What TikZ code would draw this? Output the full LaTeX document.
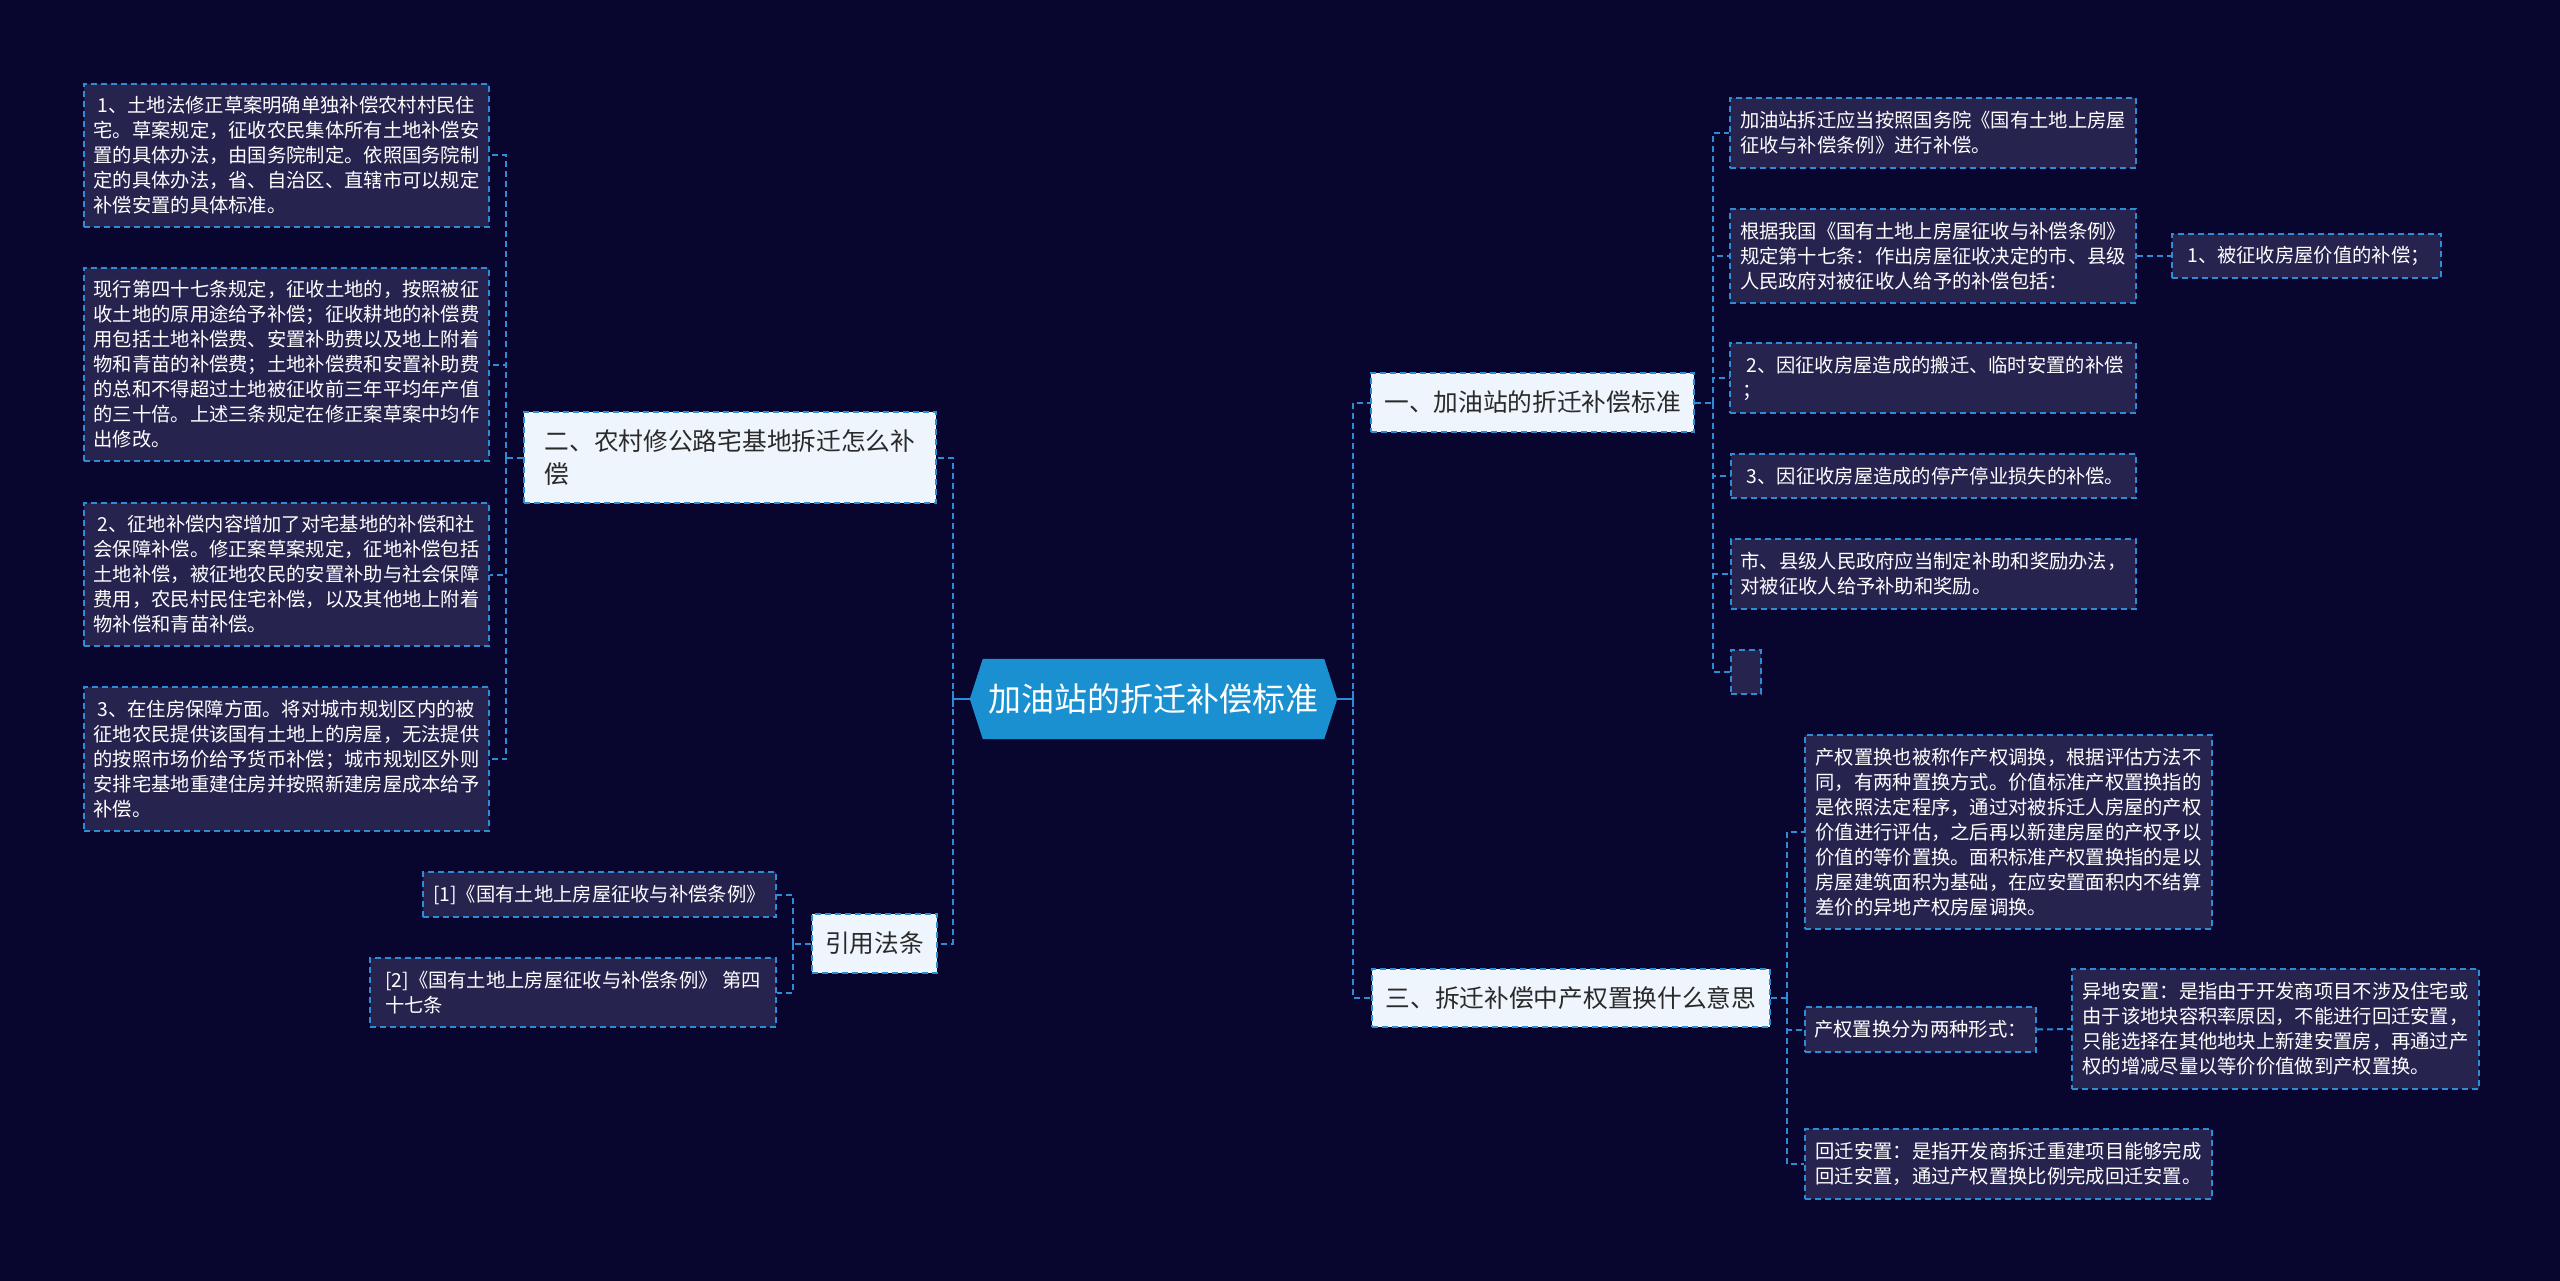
\documentclass[tikz,border=0pt]{standalone}
\usepackage{fontspec}
\setmainfont{Noto Sans CJK SC}
\usetikzlibrary{backgrounds}
\definecolor{bgc}{HTML}{08062E}
\definecolor{lfill}{HTML}{26234F}
\definecolor{bfill}{HTML}{EEF5FD}
\definecolor{btext}{HTML}{2A2A2A}
\definecolor{lc}{HTML}{2E8CD6}
\definecolor{cfill}{HTML}{1B90D1}
\begin{document}
\begin{tikzpicture}[x=1pt,y=-1pt,
  leaf/.style 2 args={draw=lc, line width=2pt, dash pattern=on 6pt off 4pt, fill=lfill,
    text=white, font=\fontsize{19.3}{25}\selectfont, align=left,
    inner xsep=9pt, inner ysep=0pt, anchor=north west,
    minimum width=#1pt, minimum height=#2pt},
  branch/.style 2 args={draw=lc, line width=2pt, dash pattern=on 6pt off 4pt, fill=bfill,
    text=btext, font=\fontsize{24.7}{33}\selectfont, align=left,
    inner xsep=13pt, inner ysep=0pt, anchor=north west,
    minimum width=#1pt, minimum height=#2pt},
  conn/.style={draw=lc, line width=2pt, dash pattern=on 6pt off 4pt},
  solidc/.style={draw=lc, line width=2.5pt}
]
\useasboundingbox (0,0) rectangle (2560,1281);
\begin{pgfonlayer}{background}
\fill[bgc] (0,0) rectangle (2560,1281);
\end{pgfonlayer}

% centre
\node[text=white, font=\fontsize{33}{38}\selectfont, minimum width=367pt, minimum height=80pt, inner sep=0pt] (c) at (1153.5,699) {加油站的折迁补偿标准};
\begin{pgfonlayer}{background}
\fill[cfill] (c.west) -- ([xshift=13pt]c.north west) -- ([xshift=-13pt]c.north east) -- (c.east) -- ([xshift=-13pt]c.south east) -- ([xshift=13pt]c.south west) -- cycle;
\end{pgfonlayer}

% main branches
\node[branch={323}{59}] (b1) at (1370,372) {一、加油站的折迁补偿标准};
\node[branch={412}{91}] (b2) at (523,411) {二、农村修公路宅基地拆迁怎么补\\偿};
\node[branch={398}{58}] (b3) at (1371,968) {三、拆迁补偿中产权置换什么意思};
\node[branch={124}{59}] (b4) at (811,913) {引用法条};

% left leaves
\node[leaf={405}{143}] (l1) at (83,83) {\hspace*{4pt}1、土地法修正草案明确单独补偿农村村民住\\宅。草案规定，征收农民集体所有土地补偿安\\置的具体办法，由国务院制定。依照国务院制\\定的具体办法，省、自治区、直辖市可以规定\\补偿安置的具体标准。};
\node[leaf={405}{193}] (l2) at (83,267) {现行第四十七条规定，征收土地的，按照被征\\收土地的原用途给予补偿；征收耕地的补偿费\\用包括土地补偿费、安置补助费以及地上附着\\物和青苗的补偿费；土地补偿费和安置补助费\\的总和不得超过土地被征收前三年平均年产值\\的三十倍。上述三条规定在修正案草案中均作\\出修改。};
\node[leaf={405}{143}] (l3) at (83,502) {\hspace*{4pt}2、征地补偿内容增加了对宅基地的补偿和社\\会保障补偿。修正案草案规定，征地补偿包括\\土地补偿，被征地农民的安置补助与社会保障\\费用，农民村民住宅补偿，以及其他地上附着\\物补偿和青苗补偿。};
\node[leaf={405}{144}] (l4) at (83,686) {\hspace*{4pt}3、在住房保障方面。将对城市规划区内的被\\征地农民提供该国有土地上的房屋，无法提供\\的按照市场价给予货币补偿；城市规划区外则\\安排宅基地重建住房并按照新建房屋成本给予\\补偿。};
\node[leaf={353}{45}] (r1) at (422,871) {[1]《国有土地上房屋征收与补偿条例》};
\node[leaf={406}{69}] (r2) at (369,957) {[2]《国有土地上房屋征收与补偿条例》 第四\\十七条};

% right top leaves
\node[leaf={406}{70}] (t1) at (1729,97) {加油站拆迁应当按照国务院《国有土地上房屋\\征收与补偿条例》进行补偿。};
\node[leaf={406}{94}] (t2) at (1729,208) {根据我国《国有土地上房屋征收与补偿条例》\\规定第十七条：作出房屋征收决定的市、县级\\人民政府对被征收人给予的补偿包括：};
\node[leaf={269}{44}] (t2a) at (2171,233) {\hspace*{4pt}1、被征收房屋价值的补偿；};
\node[leaf={406}{70}] (t3) at (1729,342) {\hspace*{4pt}2、因征收房屋造成的搬迁、临时安置的补偿\\；};
\node[leaf={405}{44}] (t4) at (1730,453) {\hspace*{4pt}3、因征收房屋造成的停产停业损失的补偿。};
\node[leaf={405}{70}] (t5) at (1730,538) {市、县级人民政府应当制定补助和奖励办法，\\对被征收人给予补助和奖励。};
\node[leaf={30}{44}] (t6) at (1730,649) {};

% right bottom leaves
\node[leaf={407}{194}] (s1) at (1804,734) {产权置换也被称作产权调换，根据评估方法不\\同，有两种置换方式。价值标准产权置换指的\\是依照法定程序，通过对被拆迁人房屋的产权\\价值进行评估，之后再以新建房屋的产权予以\\价值的等价置换。面积标准产权置换指的是以\\房屋建筑面积为基础，在应安置面积内不结算\\差价的异地产权房屋调换。};
\node[leaf={231}{45}] (s2) at (1804,1006) {产权置换分为两种形式：};
\node[leaf={407}{120}] (s2a) at (2071,968) {异地安置：是指由于开发商项目不涉及住宅或\\由于该地块容积率原因，不能进行回迁安置，\\只能选择在其他地块上新建安置房，再通过产\\权的增减尽量以等价价值做到产权置换。};
\node[leaf={407}{70}] (s3) at (1804,1128) {回迁安置：是指开发商拆迁重建项目能够完成\\回迁安置，通过产权置换比例完成回迁安置。};

% centre connectors
\draw[solidc] (c.west) -- ++(-17,0) coordinate (cl);
\draw[solidc] (c.east) -- ++(16,0) coordinate (cr);
\draw[solidc] ([yshift=-8pt]cl) -- ([yshift=8pt]cl);
\draw[solidc] ([yshift=-8pt]cr) -- ([yshift=8pt]cr);
\draw[conn] (cl) |- (b2.east);
\draw[conn] (cl) |- (b4.east);
\draw[conn] (cr) |- (b1.west);
\draw[conn] (cr) |- (b3.west);

% branch 二
\draw[conn] (b2.west) -- ++(-17,0) coordinate (j2);
\foreach \n in {l1,l2,l3,l4} \draw[conn] (j2) |- (\n.east);
% 引用法条
\draw[conn] (b4.west) -- ++(-18,0) coordinate (j4);
\foreach \n in {r1,r2} \draw[conn] (j4) |- (\n.east);
% branch 一
\draw[conn] (b1.east) -- ++(18,0) coordinate (j1);
\foreach \n in {t1,t2,t3,t4,t5,t6} \draw[conn] (j1) |- (\n.west);
\draw[conn] (t2.east) -- (t2a.west);
% branch 三
\draw[conn] (b3.east) -- ++(16,0) coordinate (j3);
\foreach \n in {s1,s2,s3} \draw[conn] (j3) |- (\n.west);
\draw[conn] (s2.east) -- (s2a.west);
\end{tikzpicture}
\end{document}
